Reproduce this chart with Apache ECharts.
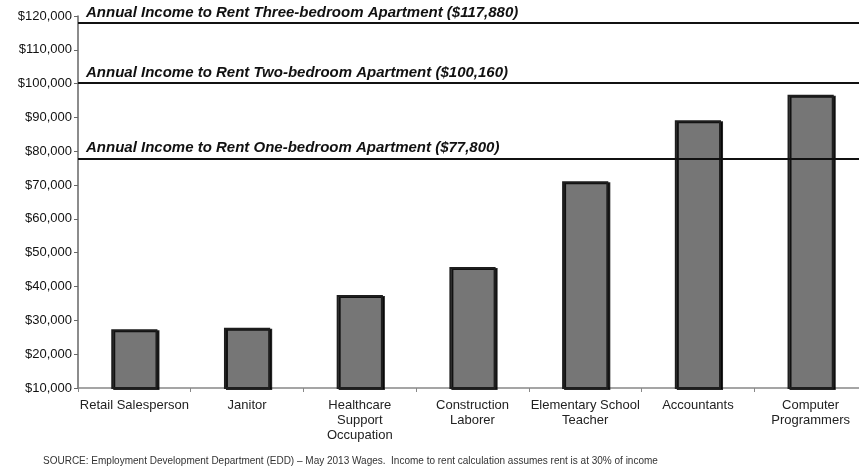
<!DOCTYPE html>
<html>
<head>
<meta charset="utf-8">
<script src="https://cdn.jsdelivr.net/npm/echarts@6/dist/echarts.min.js"></script>
<style>
  html, body { margin: 0; padding: 0; background: #fff; overflow: hidden; }
  /* plot runs slightly past the right edge of the window */
  #chart { width: 867px; height: 470px; }
</style>
</head>
<body>
<div id="chart"></div>
<script>
// Occupations and their annual wages (USD)
const occupations = [
  'Retail Salesperson',
  'Janitor',
  'Healthcare\nSupport\nOccupation',
  'Construction\nLaborer',
  'Elementary School\nTeacher',
  'Accountants',
  'Computer\nProgrammers'
];
const wages = [27400, 27800, 37500, 45800, 71100, 89200, 96700];

// Income needed to rent each apartment size
const rentLabels = [
  'Annual Income to Rent Three-bedroom Apartment ($117,880)',
  'Annual Income to Rent Two-bedroom Apartment ($100,160)',
  'Annual Income to Rent One-bedroom Apartment ($77,800)'
];
const rentIncomes = [117880, 100160, 77800];

// Value axis range
const yMin = 10000;
const yMax = 120000;
const yStep = 10000;

const sourceNote = 'SOURCE: Employment Development Department (EDD) \u2013 May 2013 Wages.  Income to rent calculation assumes rent is at 30% of income';

const fmtMoney = v => '$' + v.toLocaleString('en-US');

const chart = echarts.init(document.getElementById('chart'), null, { renderer: 'canvas' });

chart.setOption({
  animation: false,
  backgroundColor: '#ffffff',
  textStyle: { fontFamily: 'Liberation Sans, Arial, sans-serif' },
  grid: { left: 78, top: 16, right: 0, bottom: 82, containLabel: false },
  xAxis: {
    type: 'category',
    data: occupations,
    axisLine: { show: true, lineStyle: { color: '#888', width: 1.5 } },
    axisTick: { show: true, alignWithLabel: false, length: 4, lineStyle: { color: '#888' } },
    axisLabel: {
      interval: 0,
      color: '#222',
      fontSize: 13,
      lineHeight: 15,
      margin: 10
    }
  },
  yAxis: {
    type: 'value',
    min: yMin,
    max: yMax,
    interval: yStep,
    axisLine: { show: true, lineStyle: { color: '#666', width: 1.5 } },
    axisTick: { show: true, length: 4, lineStyle: { color: '#666' } },
    splitLine: { show: false },
    axisLabel: {
      color: '#111',
      fontSize: 13,
      margin: 6,
      formatter: fmtMoney
    }
  },
  series: [{
    type: 'bar',
    data: wages,
    barWidth: '41%',
    itemStyle: {
      color: '#767676',
      borderColor: '#1e1e1e',
      borderWidth: 2,
      shadowColor: 'rgba(0,0,0,0.85)',
      shadowOffsetX: 2,
      shadowOffsetY: 1,
      shadowBlur: 0
    },
    z: 2,
    markLine: {
      silent: true,
      symbol: ['none', 'none'],
      lineStyle: { color: '#111', width: 2, type: 'solid' },
      label: {
        show: true,
        position: 'insideStartTop',
        distance: [8, 3],
        color: '#111',
        fontSize: 15,
        fontStyle: 'italic',
        fontWeight: 'bold'
      },
      data: rentIncomes.map((v, i) => ({
        yAxis: v,
        label: { formatter: rentLabels[i] }
      })),
      z: 3
    }
  }],
  graphic: [{
    type: 'text',
    left: 43,
    top: 456,
    style: {
      text: sourceNote,
      fill: '#333',
      font: '10px "Liberation Sans", Arial, sans-serif'
    }
  }]
});
</script>
</body>
</html>
